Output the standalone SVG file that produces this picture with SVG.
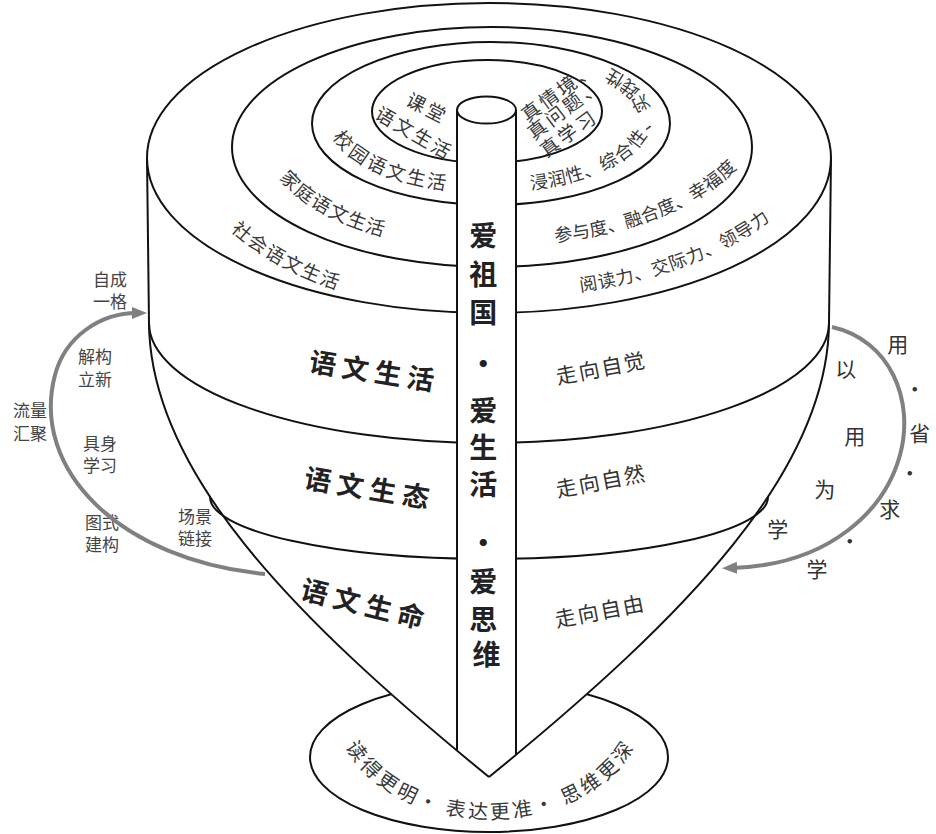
<svg xmlns="http://www.w3.org/2000/svg" width="936" height="834" viewBox="0 0 936 834">
<style>
.ln{fill:none;stroke:#111;stroke-width:2}
.wf{fill:#fff;stroke:#111;stroke-width:2}
.lbl{font-family:"Noto Sans CJK SC","Noto Sans",sans-serif;fill:#383838}
.ring{font-size:19px}
.big{font-family:"Noto Sans CJK SC","Noto Sans",sans-serif;font-size:27px;font-weight:700;fill:#222;letter-spacing:6px}
.walk{font-family:"Noto Sans CJK SC","Noto Sans",sans-serif;font-size:21px;fill:#333;letter-spacing:2px}
.pole{font-family:"Noto Sans CJK SC","Noto Sans",sans-serif;font-size:28px;font-weight:700;fill:#222}
.side{font-family:"Noto Sans CJK SC","Noto Sans",sans-serif;font-size:17px;fill:#444}
.rs{font-family:"Noto Sans CJK SC","Noto Sans",sans-serif;font-size:21px;fill:#333}
.arr{fill:none;stroke:#808080;stroke-width:4}
</style>
<defs>
<marker id="ah" markerUnits="userSpaceOnUse" markerWidth="16" markerHeight="14" viewBox="0 0 16 14" refX="5" refY="7" orient="auto">
<path d="M0,1 L15,7 L0,13 z" fill="#808080"/>
</marker>
<path id="pBL" d="M340,131 A153,66 0 0 0 476.7,183.7"/>
<path id="pBR" d="M529.9,181.7 A153,66 0 0 0 542.3,56"/>
<path id="pCL" d="M285.6,171.7 A220,108 0 0 0 471.8,240.6"/>
<path id="pCR" d="M554.2,234.3 A263,128 0 0 0 750,132.2"/>
<path id="pDL" d="M236.4,223.5 A300,175 0 0 0 437.9,302.3"/>
<path id="pDR" d="M579.3,283.7 A330,170 0 0 0 800,178"/>
<path id="pBase" d="M342,700 A148,110 0 0 0 638,700"/>
</defs>

<g id="base">
<ellipse class="wf" cx="489" cy="757" rx="179" ry="75"/>
</g>

<g id="body">
<path d="M147,158 L149,323 C150,470 290,615 489,777 C688,615 828,470 829,323 L831,158 A342,155 0 0 0 147,158 Z" fill="#fff"/>
<ellipse class="ln" cx="489" cy="158" rx="342" ry="155"/>
<line class="ln" x1="147" y1="158" x2="149" y2="323"/>
<line class="ln" x1="831" y1="158" x2="829" y2="323"/>
<path class="ln" d="M149,323 C150,470 290,615 489,777"/>
<path class="ln" d="M829,323 C828,470 688,615 489,777"/>
<path class="ln" d="M149,323 A340,120 0 0 0 829,323"/>
<path class="ln" d="M210,497 A279,62 0 0 0 768,497"/>
</g>

<g id="rings">
<ellipse class="ln" cx="492" cy="147" rx="260" ry="120"/>
<ellipse class="ln" cx="491" cy="123.5" rx="179" ry="81.5"/>
<ellipse class="ln" cx="487" cy="111.5" rx="115" ry="51.5"/>
</g>

<g id="pole">
<rect x="457" y="110" width="59" height="640" fill="#fff"/>
<line class="ln" x1="457" y1="110" x2="457" y2="751"/>
<line class="ln" x1="516" y1="110" x2="516" y2="754"/>
<ellipse class="wf" cx="486.5" cy="110" rx="29.5" ry="13.5"/>
<text class="pole" text-anchor="middle" dominant-baseline="central">
<tspan x="486.5" y="234">爱</tspan>
<tspan x="486.5" y="273">祖</tspan>
<tspan x="486.5" y="311">国</tspan>
<tspan x="486.5" y="363">·</tspan>
<tspan x="486.5" y="409">爱</tspan>
<tspan x="486.5" y="446">生</tspan>
<tspan x="486.5" y="483">活</tspan>
<tspan x="486.5" y="542">·</tspan>
<tspan x="486.5" y="580">爱</tspan>
<tspan x="486.5" y="618">思</tspan>
<tspan x="486.5" y="653">维</tspan>
</text>
</g>

<g id="ring-classroom">
<text class="lbl ring" text-anchor="middle" dominant-baseline="central" letter-spacing="3" transform="translate(428,107) rotate(27)">课堂</text>
<text class="lbl ring" text-anchor="middle" dominant-baseline="central" letter-spacing="2.5" transform="translate(415,132) rotate(30)">语文生活</text>
<text class="lbl ring" text-anchor="middle" dominant-baseline="central" letter-spacing="3" transform="translate(558,90) rotate(-36)">真情境、</text>
<text class="lbl ring" text-anchor="middle" dominant-baseline="central" letter-spacing="3" transform="translate(564,107.5) rotate(-37)">真问题、</text>
<text class="lbl ring" text-anchor="middle" dominant-baseline="central" letter-spacing="3" transform="translate(568,132) rotate(-36)">真学习</text>
</g>

<g id="ring-campus">
<text class="lbl ring" dominant-baseline="central" letter-spacing="1.5"><textPath href="#pBL">校园语文生活</textPath></text>
<text class="lbl" font-size="18" dominant-baseline="central"><textPath href="#pBR">浸润性、综合性、实践性</textPath></text>
</g>

<g id="ring-family">
<text class="lbl ring" dominant-baseline="central" letter-spacing="0.4"><textPath href="#pCL">家庭语文生活</textPath></text>
<text class="lbl" font-size="18" dominant-baseline="central" letter-spacing="-0.3"><textPath href="#pCR">参与度、融合度、幸福度</textPath></text>
</g>

<g id="ring-society">
<text class="lbl ring" dominant-baseline="central" letter-spacing="1"><textPath href="#pDL">社会语文生活</textPath></text>
<text class="lbl" font-size="18" dominant-baseline="central" letter-spacing="0.3"><textPath href="#pDR">阅读力、交际力、领导力</textPath></text>
</g>

<g id="band-life">
<text class="big" text-anchor="middle" dominant-baseline="central" transform="translate(375,370) rotate(9)">语文生活</text>
<text class="walk" text-anchor="middle" dominant-baseline="central" transform="translate(601,367) rotate(-11)">走向自觉</text>
</g>

<g id="band-ecology">
<text class="big" text-anchor="middle" dominant-baseline="central" transform="translate(370,487) rotate(9.5)">语文生态</text>
<text class="walk" text-anchor="middle" dominant-baseline="central" transform="translate(601,480) rotate(-11)">走向自然</text>
</g>

<g id="band-vitality">
<text class="big" text-anchor="middle" dominant-baseline="central" transform="translate(366,603) rotate(14)">语文生命</text>
<text class="walk" text-anchor="middle" dominant-baseline="central" transform="translate(600,610) rotate(-11)">走向自由</text>
</g>

<g id="base-label">
<text class="lbl" font-size="20" letter-spacing="2" dominant-baseline="central" text-anchor="middle"><textPath href="#pBase" startOffset="50%">读得更明· 表达更准· 思维更深</textPath></text>
</g>

<g id="left-labels">
<text class="side" text-anchor="middle" dominant-baseline="central"><tspan x="110" y="278">自成</tspan><tspan x="110" y="300">一格</tspan></text>
<text class="side" text-anchor="middle" dominant-baseline="central"><tspan x="95" y="355">解构</tspan><tspan x="95" y="378">立新</tspan></text>
<text class="side" text-anchor="middle" dominant-baseline="central"><tspan x="30" y="409">流量</tspan><tspan x="30" y="432">汇聚</tspan></text>
<text class="side" text-anchor="middle" dominant-baseline="central"><tspan x="100" y="442">具身</tspan><tspan x="100" y="464">学习</tspan></text>
<text class="side" text-anchor="middle" dominant-baseline="central"><tspan x="102" y="521">图式</tspan><tspan x="102" y="543">建构</tspan></text>
<text class="side" text-anchor="middle" dominant-baseline="central"><tspan x="195" y="515">场景</tspan><tspan x="195" y="537">链接</tspan></text>
</g>

<g id="right-labels">
<text class="rs" text-anchor="middle" dominant-baseline="central">
<tspan x="848" y="368">以</tspan>
<tspan x="857" y="435">用</tspan>
<tspan x="827" y="488">为</tspan>
<tspan x="780" y="528">学</tspan>
<tspan x="900" y="343">用</tspan>
<tspan x="917" y="388">·</tspan>
<tspan x="922" y="432">省</tspan>
<tspan x="912" y="472">·</tspan>
<tspan x="892" y="508">求</tspan>
<tspan x="852" y="540">·</tspan>
<tspan x="817" y="568">学</tspan>
</text>
</g>

<g id="connectors">
<path class="arr" d="M265,574 C120,560 30,470 55,375 C65,337 100,313 137,313" marker-end="url(#ah)"/>
<path class="arr" d="M832,327 C890,340 915,400 900,455 C885,510 830,565 732,568" marker-end="url(#ah)"/>
</g>
</svg>
